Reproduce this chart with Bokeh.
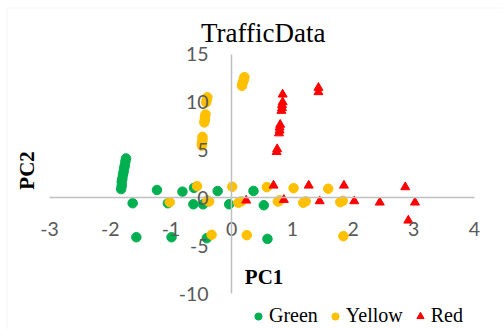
import math
from bokeh.plotting import figure
from bokeh.models import LinearAxis, FixedTicker, Label, Legend, LegendItem, BoxAnnotation
from bokeh.embed import file_html
from bokeh.resources import INLINE

# ---- data ----
x_ticks = [-3, -2, -1, 0, 1, 2, 3, 4]
y_ticks = [-10, -5, 0, 5, 10, 15]

green_x = [-1.82, -1.81, -1.81, -1.80, -1.79, -1.78, -1.77, -1.76, -1.75, -1.74,
           -1.63, -1.23, -1.57, -1.05, -0.99, -0.81, -0.63, -0.62, -0.47, -0.41,
           -0.23, -0.04, 0.36, 0.53, 0.59]
green_y = [0.93, 1.3, 1.7, 2.0, 2.4, 2.7, 3.1, 3.4, 3.8, 4.12,
           -0.55, 0.83, -4.1, -0.55, -4.1, 0.66, -0.66, 1.05, -0.66, -4.2,
           0.72, -0.66, 0.73, -0.76, -4.27]

yellow_x = [-0.49, -0.49, -0.48, -0.48,
            -0.45, -0.44, -0.44, -0.43,
            -0.42, -0.41, -0.40,
            0.17, 0.18, 0.20, 0.21,
            -0.57, -1.02, -0.40, -0.37, -0.33, 0.01, 0.11, 0.16, 0.25, 0.58,
            0.76, 0.79, 1.02, 1.18, 1.22, 1.59, 1.79, 1.83, 1.84]
yellow_y = [5.45, 5.75, 6.05, 6.38,
            7.88, 8.15, 8.45, 8.72,
            9.97, 10.25, 10.5,
            11.7, 12.0, 12.3, 12.6,
            1.23, -0.44, -0.26, -0.37, -3.84, 1.17, -0.5, -0.35, -3.88, 1.13,
            -0.37, -0.25, 1.02, -0.5, -0.35, 0.96, -0.44, -0.3, -3.99]

red_x = [0.69, 0.24, 0.86, 1.27, 1.45, 1.85, 2.02, 2.44, 2.86, 3.02, 2.91,
         0.74, 0.75,
         0.78, 0.79, 0.79, 0.80,
         0.82, 0.83, 0.83, 0.84, 0.84,
         1.43, 1.43]
red_y = [1.30, -0.26, -0.19, 1.30, -0.33, 1.30, -0.33, -0.47, 1.13, -0.47, -2.35,
         4.8, 5.1,
         6.75, 7.05, 7.35, 7.65,
         9.1, 9.4, 9.7, 10.0, 10.8,
         11.05, 11.5]

# ---- figure: the frame fills the whole canvas, axes cross at 0 ----
p = figure(width=503, height=329, x_range=(-3.807, 4.478), y_range=(-13.725, 20.603),
           x_axis_type=None, y_axis_type=None,
           output_backend="svg", toolbar_location=None,
           min_border=0, min_border_left=0, min_border_right=0,
           min_border_top=0, min_border_bottom=0)
p.title.visible = False
p.outline_line_color = None
p.background_fill_color = "white"
p.border_fill_color = "white"

# chart-area border (left and top edges visible in the reference)
p.add_layout(BoxAnnotation(left=-3.70, top=19.82, right=6, bottom=-20,
                           fill_alpha=0, line_color="#d9d9d9", line_width=1))

def style_axis(ax, standoff, ticks):
    ax.axis_line_color = "#c0c0c0"
    ax.axis_line_width = 1.5
    ax.major_tick_in = 0
    ax.major_tick_out = 0
    ax.minor_tick_in = 0
    ax.minor_tick_out = 0
    ax.major_label_text_font = "Lato"
    ax.major_label_text_font_size = "19.5px"
    ax.major_label_text_color = "#595959"
    ax.major_label_standoff = standoff
    ax.major_label_overrides = {t: str(t) for t in ticks}

xaxis = LinearAxis(fixed_location=0, ticker=FixedTicker(ticks=x_ticks), bounds=(-3, 4))
style_axis(xaxis, 24, x_ticks)
p.add_layout(xaxis, "below")

yaxis = LinearAxis(fixed_location=0, ticker=FixedTicker(ticks=y_ticks), bounds=(-10, 15))
style_axis(yaxis, 23, y_ticks)
p.add_layout(yaxis, "left")

g = p.scatter(green_x, green_y, marker="circle", size=9.5, color="#00b050")
yl = p.scatter(yellow_x, yellow_y, marker="circle", size=9.5, color="#ffc000")
r = p.scatter(red_x, red_y, marker="triangle", size=9, color="#ff0000")

legend = Legend(items=[LegendItem(label="Green", renderers=[g]),
                       LegendItem(label="Yellow", renderers=[yl]),
                       LegendItem(label="Red", renderers=[r])],
                orientation="horizontal", location=(249, 2),
                label_text_font="Liberation Serif", label_text_font_size="20px",
                label_text_color="black",
                glyph_width=18, glyph_height=20, label_height=20,
                label_standoff=2, spacing=8, padding=0, margin=0,
                border_line_color=None, background_fill_alpha=0)
p.add_layout(legend, "center")

title = Label(x=0.52, y=17.26, text="TrafficData", text_font="Liberation Serif",
              text_font_size="27px", text_color="black",
              text_align="center", text_baseline="alphabetic")
pc1 = Label(x=0.535, y=-8.2, text="PC1", text_font="Liberation Serif",
            text_font_style="bold", text_font_size="21px", text_color="black",
            text_align="center", text_baseline="alphabetic")
pc2 = Label(x=-3.37, y=2.87, text="PC2", angle=math.pi / 2,
            text_font="Liberation Serif", text_font_style="bold",
            text_font_size="21px", text_color="black",
            text_align="center", text_baseline="alphabetic")
p.add_layout(title)
p.add_layout(pc1)
p.add_layout(pc2)

open("out.html", "w").write(file_html(p, INLINE))
